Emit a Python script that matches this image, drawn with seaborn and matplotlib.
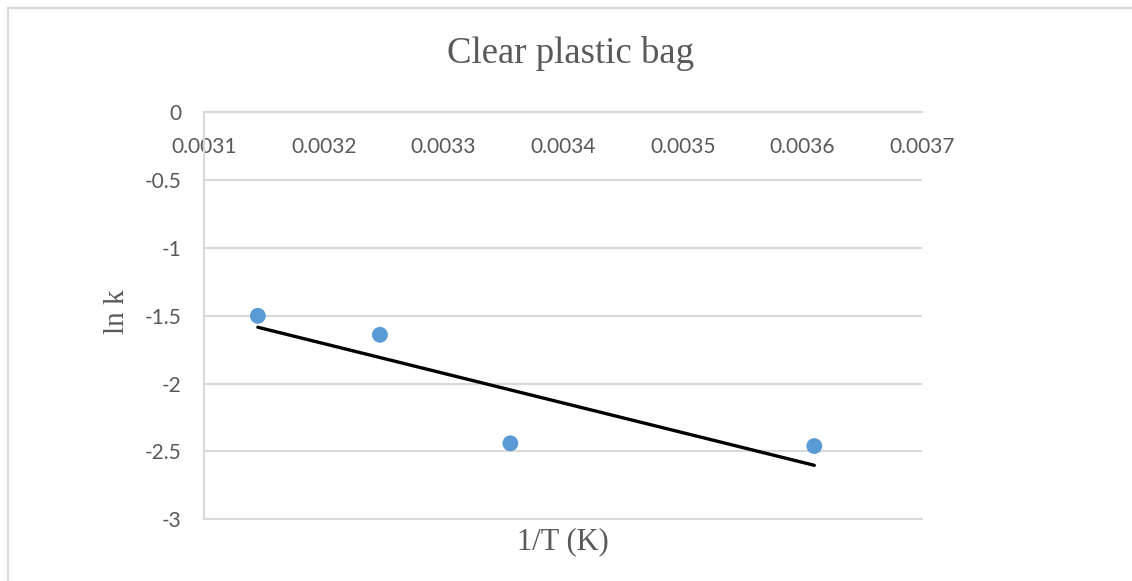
import matplotlib
matplotlib.use("Agg")
import matplotlib.pyplot as plt
import seaborn as sns
import pandas as pd
from matplotlib.patches import Rectangle

# Data
inv_T = [0.003145, 0.003247, 0.003356, 0.003610]
ln_k = [-1.50, -1.64, -2.44, -2.46]
x_ticks = [0.0031, 0.0032, 0.0033, 0.0034, 0.0035, 0.0036, 0.0037]
x_tick_labels = ["0.0031", "0.0032", "0.0033", "0.0034", "0.0035", "0.0036", "0.0037"]
y_ticks = [0, -0.5, -1, -1.5, -2, -2.5, -3]
y_tick_labels = ["0", "-0.5", "-1", "-1.5", "-2", "-2.5", "-3"]

df = pd.DataFrame({"inv_T": inv_T, "ln_k": ln_k})

sns.set_theme(style="white")
plt.rcParams["font.family"] = ["Lato", "DejaVu Sans"]

fig = plt.figure(figsize=(11.32, 5.81), dpi=100)
fig.patch.set_facecolor("white")
ax = fig.add_axes([204 / 1132, 1 - 519.3 / 581, 718 / 1132, 407 / 581])

grey_txt = "#595959"
grid_c = "#d9d9d9"

# chart-area border (Excel style), right and bottom edges fall outside the image
fig.patches.append(Rectangle((8 / 1132, -0.2), 1.5, 1.2 - 7.5 / 581,
                             transform=fig.transFigure, fill=False,
                             edgecolor=grid_c, linewidth=1.5, zorder=0))

sns.regplot(data=df, x="inv_T", y="ln_k", ax=ax, scatter=False, ci=None,
            truncate=True, color="black",
            line_kws={"linewidth": 2.4, "solid_capstyle": "round", "zorder": 3})
sns.scatterplot(data=df, x="inv_T", y="ln_k", ax=ax, color="#5B9BD5",
                s=130, edgecolor="none", zorder=4)

ax.set_xlim(0.0031, 0.0037)
ax.set_ylim(-3, 0)
ax.set_xticks(x_ticks)
ax.set_xticklabels(x_tick_labels)
ax.set_yticks(y_ticks)
ax.set_yticklabels(y_tick_labels)

ax.grid(axis="y", color=grid_c, linewidth=1.5)
ax.grid(axis="x", visible=False)
ax.set_axisbelow(True)

ax.spines["right"].set_visible(False)
for s in ["left", "top", "bottom"]:
    ax.spines[s].set_visible(True)
    ax.spines[s].set_color(grid_c)
    ax.spines[s].set_linewidth(1.5)

ax.xaxis.set_ticks_position("top")
ax.tick_params(axis="x", top=True, bottom=False, labeltop=True, labelbottom=False,
               length=0, pad=-32, labelsize=15, labelcolor=grey_txt)
ax.tick_params(axis="y", length=0, pad=16.5, labelsize=15, labelcolor=grey_txt)

ax.xaxis.set_label_position("bottom")
ax.set_xlabel("1/T (K)", family=["Liberation Serif"], fontsize=22, color=grey_txt, labelpad=6)
ax.set_ylabel("ln k", family=["Liberation Serif"], fontsize=21, color=grey_txt)
ax.yaxis.set_label_coords(-0.103, 0.51)

fig.text(571 / 1132, 1 - 63 / 581, "Clear plastic bag", family=["Liberation Serif"],
         fontsize=26.5, color=grey_txt, ha="center", va="baseline")

fig.savefig("out.png", dpi=100, facecolor="white")
